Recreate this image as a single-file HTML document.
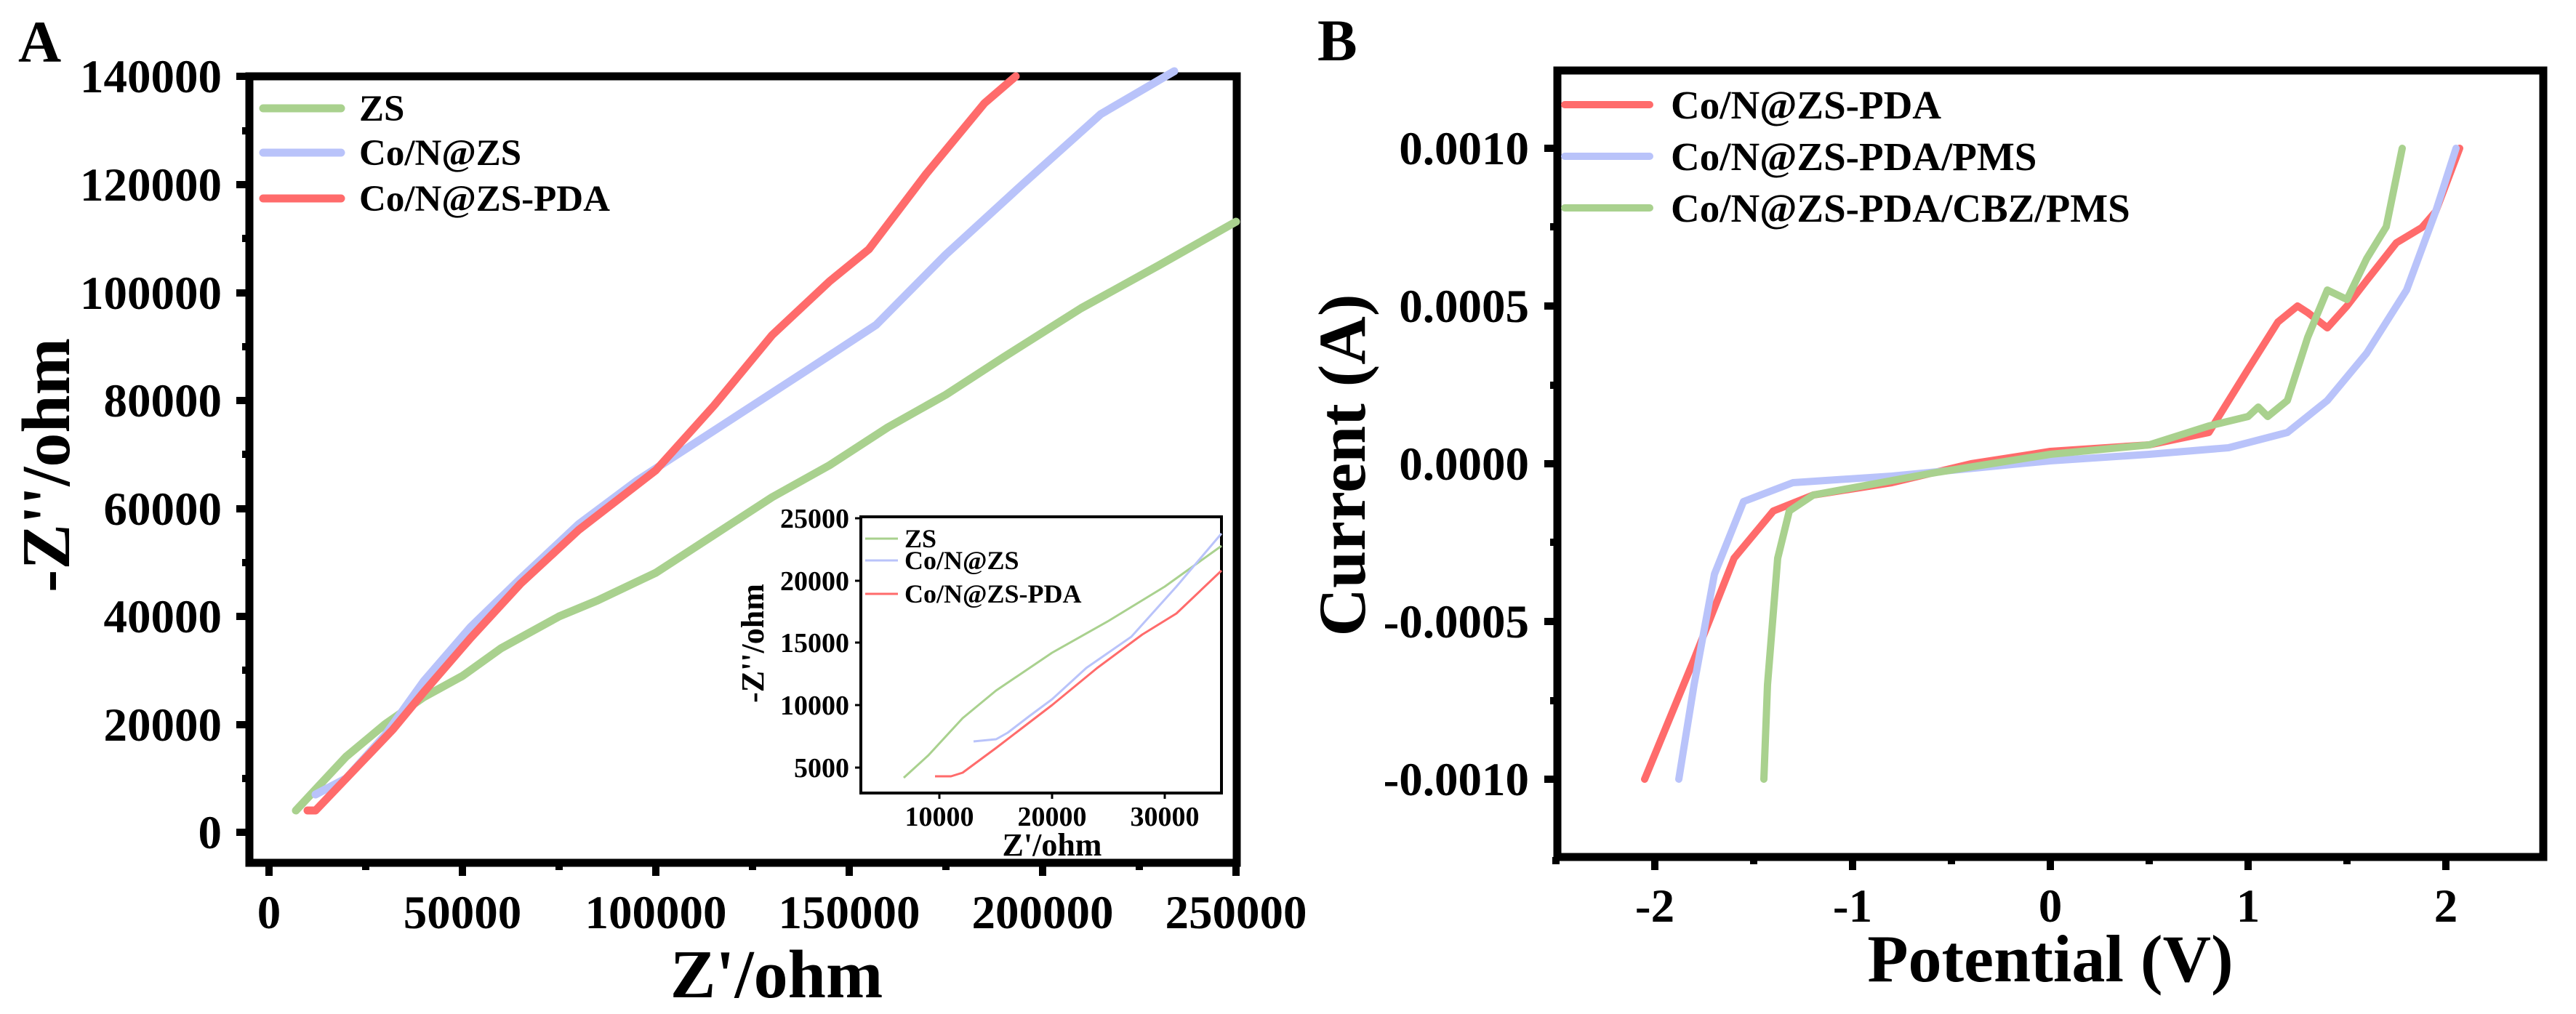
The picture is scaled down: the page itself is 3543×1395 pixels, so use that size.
<!DOCTYPE html>
<html><head><meta charset="utf-8"><style>
html,body{margin:0;padding:0;background:#fff;}
svg text{font-family:"Liberation Serif",serif;font-weight:bold;fill:#000;}
</style></head><body>
<svg xmlns="http://www.w3.org/2000/svg" width="3543" height="1390" viewBox="0 0 3543 1390">
<rect width="3543" height="1390" fill="#fff"/>
<text x="25" y="85" font-size="82">A</text>
<text x="1812" y="83" font-size="82">B</text>

<!-- Panel A frame -->
<rect x="343" y="105" width="1358" height="1082" fill="none" stroke="#000" stroke-width="11"/>
<g stroke="#000" stroke-width="10">
<line x1="370" y1="1187" x2="370" y2="1205"/><line x1="636" y1="1187" x2="636" y2="1205"/><line x1="902" y1="1187" x2="902" y2="1205"/><line x1="1168" y1="1187" x2="1168" y2="1205"/><line x1="1434" y1="1187" x2="1434" y2="1205"/><line x1="1700" y1="1187" x2="1700" y2="1205"/>
<line x1="503" y1="1187" x2="503" y2="1197"/><line x1="769" y1="1187" x2="769" y2="1197"/><line x1="1035" y1="1187" x2="1035" y2="1197"/><line x1="1301" y1="1187" x2="1301" y2="1197"/><line x1="1567" y1="1187" x2="1567" y2="1197"/>
<line x1="325" y1="105" x2="343" y2="105"/><line x1="325" y1="254" x2="343" y2="254"/><line x1="325" y1="403" x2="343" y2="403"/><line x1="325" y1="551" x2="343" y2="551"/><line x1="325" y1="700" x2="343" y2="700"/><line x1="325" y1="848" x2="343" y2="848"/><line x1="325" y1="997" x2="343" y2="997"/><line x1="325" y1="1145" x2="343" y2="1145"/>
<line x1="333" y1="180" x2="343" y2="180"/><line x1="333" y1="328" x2="343" y2="328"/><line x1="333" y1="477" x2="343" y2="477"/><line x1="333" y1="625" x2="343" y2="625"/><line x1="333" y1="774" x2="343" y2="774"/><line x1="333" y1="922" x2="343" y2="922"/><line x1="333" y1="1071" x2="343" y2="1071"/>
</g>
<g font-size="65" text-anchor="end">
<text x="305" y="127">140000</text><text x="305" y="276">120000</text><text x="305" y="425">100000</text><text x="305" y="573">80000</text><text x="305" y="722">60000</text><text x="305" y="870">40000</text><text x="305" y="1019">20000</text><text x="305" y="1167">0</text>
</g>
<g font-size="65" text-anchor="middle">
<text x="370" y="1277">0</text><text x="636" y="1277">50000</text><text x="902" y="1277">100000</text><text x="1168" y="1277">150000</text><text x="1434" y="1277">200000</text><text x="1700" y="1277">250000</text>
</g>
<text x="1068" y="1372" font-size="94" text-anchor="middle">Z'/ohm</text>
<text transform="translate(95,640) rotate(-90)" font-size="94" text-anchor="middle">-Z''/ohm</text>

<!-- A curves -->
<g fill="none" stroke-width="11" stroke-linecap="round" stroke-linejoin="round">
<polyline stroke="#a9d18e" points="407,1115 434,1086 476,1041 530,996 583,959 636,930 689,892 769,848 822,826 902,788 982,736 1062,684 1141,640 1221,588 1301,543 1381,491 1487,424 1594,365 1700,305"/>
<polyline stroke="#b9c3fa" points="434,1093 476,1071 530,1011 583,937 647,863 716,796 796,721 875,662 955,610 1035,558 1115,506 1205,447 1301,350 1407,253 1514,157 1615,98"/>
<polyline stroke="#ff6b6b" points="423,1115 434,1115 476,1071 540,1004 583,952 647,878 716,803 796,729 902,647 982,558 1062,461 1141,387 1195,343 1274,239 1354,142 1397,105"/>
</g>
<!-- A legend -->
<g stroke-width="11" stroke-linecap="round">
<line x1="362" y1="149" x2="469" y2="149" stroke="#a9d18e"/>
<line x1="362" y1="210" x2="469" y2="210" stroke="#b9c3fa"/>
<line x1="362" y1="273" x2="469" y2="273" stroke="#ff6b6b"/>
</g>
<g font-size="51">
<text x="494" y="166">ZS</text><text x="494" y="227">Co/N@ZS</text><text x="494" y="290">Co/N@ZS-PDA</text>
</g>

<!-- Inset -->
<rect x="1184" y="711" width="496" height="380" fill="#fff" stroke="#000" stroke-width="4"/>
<g stroke="#000" stroke-width="3">
<line x1="1292" y1="1091" x2="1292" y2="1099"/><line x1="1447" y1="1091" x2="1447" y2="1099"/><line x1="1602" y1="1091" x2="1602" y2="1099"/>
<line x1="1176" y1="713" x2="1184" y2="713"/><line x1="1176" y1="799" x2="1184" y2="799"/><line x1="1176" y1="884" x2="1184" y2="884"/><line x1="1176" y1="970" x2="1184" y2="970"/><line x1="1176" y1="1056" x2="1184" y2="1056"/>
</g>
<g font-size="38" text-anchor="end">
<text x="1168" y="726">25000</text><text x="1168" y="812">20000</text><text x="1168" y="897">15000</text><text x="1168" y="983">10000</text><text x="1168" y="1069">5000</text>
</g>
<g font-size="38" text-anchor="middle">
<text x="1292" y="1136">10000</text><text x="1447" y="1136">20000</text><text x="1602" y="1136">30000</text>
</g>
<text x="1447" y="1177" font-size="44" text-anchor="middle">Z'/ohm</text>
<text transform="translate(1050,885) rotate(-90)" font-size="44" text-anchor="middle">-Z''/ohm</text>
<g fill="none" stroke-width="3" stroke-linejoin="round">
<polyline stroke="#a9d18e" points="1243,1070 1277,1039 1324,988 1370,950 1447,898 1525,854 1602,807 1680,751"/>
<polyline stroke="#b9c3fa" points="1339,1020 1370,1017 1386,1008 1416,985 1447,962 1494,919 1556,876 1618,807 1680,734"/>
<polyline stroke="#ff6b6b" points="1286,1068 1308,1068 1324,1063 1370,1029 1447,970 1509,919 1571,873 1618,844 1680,785"/>
</g>
<g stroke-width="3">
<line x1="1190" y1="741" x2="1235" y2="741" stroke="#a9d18e"/>
<line x1="1190" y1="771" x2="1235" y2="771" stroke="#b9c3fa"/>
<line x1="1190" y1="817" x2="1235" y2="817" stroke="#ff6b6b"/>
</g>
<g font-size="36">
<text x="1244" y="753">ZS</text><text x="1244" y="783">Co/N@ZS</text><text x="1244" y="829">Co/N@ZS-PDA</text>
</g>

<!-- Panel B frame -->
<rect x="2142" y="97" width="1356" height="1082" fill="none" stroke="#000" stroke-width="11"/>
<g stroke="#000" stroke-width="10">
<line x1="2276" y1="1179" x2="2276" y2="1197"/><line x1="2548" y1="1179" x2="2548" y2="1197"/><line x1="2820" y1="1179" x2="2820" y2="1197"/><line x1="3092" y1="1179" x2="3092" y2="1197"/><line x1="3364" y1="1179" x2="3364" y2="1197"/>
<line x1="2140" y1="1179" x2="2140" y2="1189"/><line x1="2412" y1="1179" x2="2412" y2="1189"/><line x1="2684" y1="1179" x2="2684" y2="1189"/><line x1="2956" y1="1179" x2="2956" y2="1189"/><line x1="3228" y1="1179" x2="3228" y2="1189"/>
<line x1="2124" y1="204" x2="2142" y2="204"/><line x1="2124" y1="421" x2="2142" y2="421"/><line x1="2124" y1="638" x2="2142" y2="638"/><line x1="2124" y1="855" x2="2142" y2="855"/><line x1="2124" y1="1072" x2="2142" y2="1072"/>
<line x1="2132" y1="312" x2="2142" y2="312"/><line x1="2132" y1="530" x2="2142" y2="530"/><line x1="2132" y1="746" x2="2142" y2="746"/><line x1="2132" y1="964" x2="2142" y2="964"/>
</g>
<g font-size="65" text-anchor="end">
<text x="2103" y="226">0.0010</text><text x="2103" y="443">0.0005</text><text x="2103" y="660">0.0000</text><text x="2103" y="877">-0.0005</text><text x="2103" y="1094">-0.0010</text>
</g>
<g font-size="65" text-anchor="middle">
<text x="2276" y="1268">-2</text><text x="2548" y="1268">-1</text><text x="2820" y="1268">0</text><text x="3092" y="1268">1</text><text x="3364" y="1268">2</text>
</g>
<text x="2820" y="1350" font-size="92" text-anchor="middle">Potential (V)</text>
<text transform="translate(1877,640) rotate(-90)" font-size="92" text-anchor="middle">Current (A)</text>

<g fill="none" stroke-width="10" stroke-linecap="round" stroke-linejoin="round">
<polyline stroke="#ff6b6b" points="2262,1072 2330,907 2385,768 2439,703 2494,681 2602,664 2711,638 2820,621 2956,612 3038,595 3092,508 3133,443 3160,421 3174,430 3201,451 3228,421 3255,386 3296,334 3331,313 3350,291 3383,204"/>
<polyline stroke="#b9c3fa" points="2309,1072 2330,942 2358,790 2398,690 2466,664 2602,655 2820,634 2956,625 3065,616 3146,595 3201,551 3255,486 3310,399 3350,291 3378,204"/>
<polyline stroke="#a9d18e" points="2426,1072 2431,942 2445,768 2461,703 2494,681 2657,651 2820,625 2956,612 3038,586 3092,573 3106,560 3119,573 3146,551 3174,464 3201,399 3228,412 3255,356 3282,312 3304,204"/>
</g>
<g stroke-width="10" stroke-linecap="round">
<line x1="2152" y1="144" x2="2269" y2="144" stroke="#ff6b6b"/>
<line x1="2152" y1="215" x2="2269" y2="215" stroke="#b9c3fa"/>
<line x1="2152" y1="286" x2="2269" y2="286" stroke="#a9d18e"/>
</g>
<g font-size="55">
<text x="2298" y="163">Co/N@ZS-PDA</text><text x="2298" y="234">Co/N@ZS-PDA/PMS</text><text x="2298" y="305">Co/N@ZS-PDA/CBZ/PMS</text>
</g>
</svg>
</body></html>
